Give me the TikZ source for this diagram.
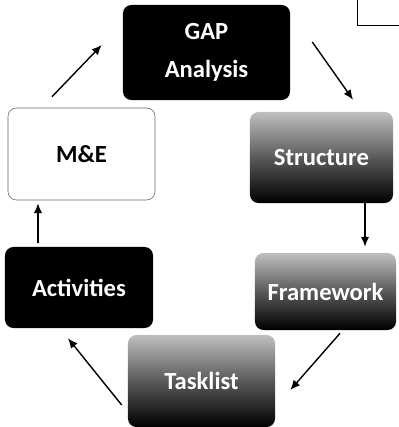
\documentclass[tikz,border=0pt]{standalone}
\usepackage{fontspec}
\setmainfont{Carlito}
\usetikzlibrary{arrows.meta}
\begin{document}
\begin{tikzpicture}[x=0.025cm,y=-0.025cm,
    every node/.append style={rounded corners=6pt,inner sep=0pt,
      font=\bfseries\fontsize{17.5}{20}\selectfont,align=center},
    darkbox/.style={fill=black,text=white},
    shadebox/.style={top color=black!25,bottom color=black,
      middle color=black!65,text=white},
    plainbox/.style={draw=black!60,thin,fill=white},
    arr/.style={-{Latex[length=7pt,width=6pt]},line width=1pt}]
    \useasboundingbox (0,0) rectangle (399,427);

    \node[darkbox,minimum width=4.175cm,minimum height=2.375cm] (gap) at (206.5,52.5) {GAP\\[7pt]Analysis};
    \node[plainbox,minimum width=3.675cm,minimum height=2.3cm] (me) at (81.5,154) {M\&E};
    \node[shadebox,minimum width=3.575cm,minimum height=2.275cm] (struct) at (321.5,157.5) {Structure};
    \node[shadebox,minimum width=3.525cm,minimum height=1.925cm] (frame) at (325.5,291.5) {Framework};
    \node[darkbox,minimum width=3.7cm,minimum height=2.025cm] (act) at (79,287.5) {Activities};
    \node[shadebox,minimum width=3.675cm,minimum height=2.3cm] (task) at (201.5,381) {Tasklist};

    % box cut off at the corner
    \node[draw,thin,rounded corners=0pt,minimum width=1.3cm,minimum height=0.95cm] (corner) at (383,6) {};

    \draw[arr] ([shift={(-29.5,-11)}]me.north) -- ([shift={(-21,-7.5)}]gap.west);
    \draw[arr] ([shift={(22,-10.5)}]gap.east) -- ([shift={(31.5,-12)}]struct.north);
    \draw[arr] ([shift={(43.5,0)}]struct.south) -- ([shift={(39.5,-6)}]frame.north);
    \draw[arr] ([shift={(14.5,3)}]frame.south) -- ([shift={(15,9)}]task.east);
    \draw[arr] ([shift={(-6,24)}]task.west) -- ([shift={(-11,10)}]act.south);
    \draw[arr] ([shift={(-41,-4)}]act.north) -- ([shift={(-43.5,3)}]me.south);
\end{tikzpicture}
\end{document}
